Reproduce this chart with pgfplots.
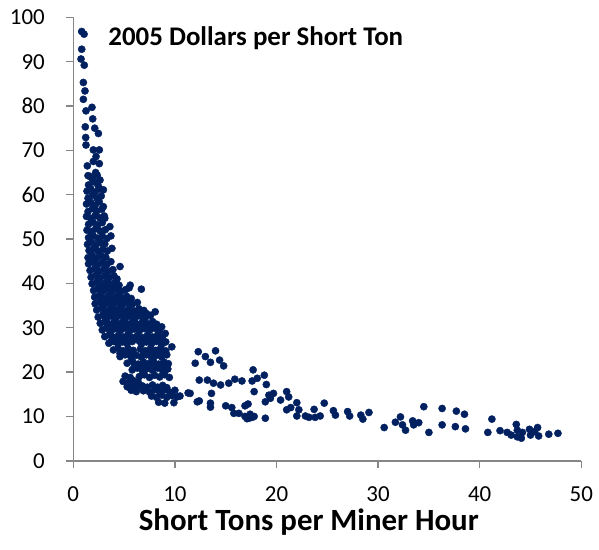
\documentclass[border=0pt]{standalone}
\usepackage{fontspec}
\setmainfont{Carlito}
\usepackage{pgfplots}
\usepackage{pgfplotstable}
\pgfplotsset{compat=1.18}
\definecolor{navy}{RGB}{0,32,96}
\definecolor{axgray}{RGB}{134,134,134}
\pgfplotstableread{
x y
0.83 96.8
1.06 96.2
0.83 92.8
0.76 90.6
1.08 89.2
0.99 85.3
1.15 83.4
0.99 81.5
1.84 79.7
1.25 78.9
1.91 77.1
1.18 75.3
2.11 75.0
2.47 73.8
1.22 72.9
1.25 71.2
1.97 70.1
2.56 70.1
2.24 68.6
1.38 66.5
1.97 67.5
2.56 67.0
2.20 65.0
1.65 64.1
2.63 63.3
2.96 61.1
2.96 57.3
3.10 54.7
3.60 52.8
3.70 50.7
3.80 47.9
4.60 43.8
5.60 39.6
6.70 38.7
5.50 39.0
8.06 33.6
8.70 30.2
9.05 28.7
9.70 25.7
8.50 27.0
1.45 64.3
1.85 63.6
2.35 64.4
1.5 62.2
2.05 62.9
2.45 62.0
1.35 60.8
1.7 61.4
2.15 60.6
2.6 61.3
1.45 59.2
1.9 59.9
2.35 59.1
2.75 59.7
1.3 57.9
1.7 58.3
2.15 57.6
2.55 58.4
1.45 56.2
1.9 56.9
2.3 56.3
2.8 56.7
1.3 55.1
1.7 54.7
2.15 55.3
2.6 54.8
3.05 55.2
1.5 53.3
1.95 53.8
2.4 53.2
2.85 53.7
1.35 52.0
1.75 51.7
2.2 52.3
2.65 51.8
3.15 52.1
1.5 50.3
1.95 50.8
2.4 50.2
2.85 50.7
3.3 50.1
1.4 48.8
1.8 49.3
2.25 48.7
2.7 49.2
3.1 48.9
1.55 47.4
2.0 47.8
2.45 47.2
2.9 47.7
3.35 47.3
1.45 45.8
1.85 46.3
2.3 45.7
2.75 46.2
3.2 45.9
1.5 44.4
1.95 44.8
2.4 44.2
2.85 44.7
3.3 44.3
3.7 44.9
1.65 42.9
2.1 43.3
2.55 42.7
3.0 43.2
3.45 42.8
3.9 43.1
1.75 41.4
2.2 41.8
2.65 41.2
3.1 41.7
3.55 41.3
4.0 41.7
4.3 41.0
1.85 39.9
2.3 40.3
2.75 39.7
3.2 40.2
3.65 39.8
4.1 40.2
4.5 39.6
2.5 39.2
3.0 39.1
3.5 39.3
4.0 39.0
2.0 38.4
2.45 38.8
2.9 38.2
3.35 38.7
3.8 38.3
4.25 38.8
4.7 38.2
5.15 38.6
2.1 36.9
2.55 37.3
3.0 36.7
3.45 37.2
3.9 36.8
4.35 37.3
4.8 36.7
5.25 37.1
5.7 36.6
2.8 36.2
3.3 36.1
3.8 36.3
4.3 36.0
4.8 36.2
2.15 35.4
2.6 35.8
3.05 35.2
3.5 35.7
3.95 35.3
4.4 35.8
4.85 35.2
5.3 35.7
5.8 35.3
6.3 35.7
2.3 34.0
2.75 34.4
3.2 33.8
3.65 34.3
4.1 33.9
4.55 34.4
5.0 33.8
5.45 34.2
5.95 33.8
6.45 34.3
6.95 33.9
3.0 33.2
3.5 33.0
4.0 33.3
4.5 33.1
5.0 33.2
5.5 33.0
6.0 33.3
6.5 33.1
7.2 33.2
2.45 32.4
2.9 32.8
3.35 32.2
3.8 32.7
4.25 32.3
4.7 32.8
5.15 32.2
5.6 32.6
6.1 32.2
6.6 32.7
7.1 32.3
7.6 32.8
2.65 31.0
3.1 31.4
3.55 30.8
4.0 31.3
4.45 30.9
4.9 31.4
5.35 30.8
5.8 31.2
6.3 30.8
6.8 31.3
7.3 30.9
7.8 31.4
8.2 30.8
3.3 30.2
3.8 30.0
4.3 30.3
4.8 30.1
5.3 30.2
5.8 30.0
6.3 30.3
6.8 30.1
7.3 30.2
7.8 30.0
2.85 29.5
3.3 29.9
3.75 29.3
4.2 29.8
4.65 29.4
5.1 29.9
5.55 29.3
6.0 29.7
6.5 29.3
7.0 29.8
7.5 29.4
8.0 29.9
8.45 29.3
3.1 28.0
3.55 28.4
4.0 27.8
4.45 28.3
4.9 27.9
5.35 28.4
5.8 27.8
6.3 28.2
6.8 27.8
7.3 28.3
7.8 27.9
8.3 28.4
8.75 27.8
3.8 27.2
4.3 27.1
4.8 27.3
5.3 27.1
5.9 27.2
6.5 27.0
7.0 27.2
7.5 27.1
8.0 27.3
3.5 26.5
3.95 26.9
4.4 26.3
4.85 26.8
5.3 26.4
5.8 26.9
6.7 26.3
7.2 26.8
7.7 26.4
8.2 26.9
8.7 26.3
9.1 26.8
3.95 25.0
4.4 25.4
4.9 24.8
5.4 25.3
5.9 24.9
6.6 25.2
7.1 24.8
7.6 25.3
8.1 24.9
8.6 25.4
9.1 24.8
4.6 24.2
5.2 24.1
5.7 24.3
6.9 24.1
7.4 24.2
7.9 24.0
8.4 24.2
8.9 24.1
4.6 23.5
5.1 23.9
5.7 23.3
6.2 23.8
6.7 23.4
7.2 23.9
7.7 23.3
8.2 23.8
8.7 23.4
9.2 23.9
5.3 22.0
5.85 22.4
6.4 21.8
6.9 22.3
7.4 21.9
7.9 22.4
8.4 21.8
8.9 22.3
9.35 21.9
6.0 21.2
6.6 21.1
7.1 21.3
7.6 21.1
8.1 21.2
8.6 21.0
9.1 21.2
5.8 20.5
6.3 20.9
6.8 20.3
7.3 20.8
7.8 20.4
8.3 20.9
8.8 20.3
9.3 20.7
5.1 19.1
5.6 18.8
6.5 19.0
7.0 19.4
7.5 18.8
8.0 19.3
8.5 18.9
9.0 19.4
9.45 18.8
4.9 17.9
5.4 17.6
5.9 18.1
6.4 17.7
5.3 16.7
5.8 17.0
6.3 16.5
6.8 16.9
7.3 16.6
7.8 17.1
8.3 16.6
8.8 17.0
9.2 16.5
5.7 15.9
6.2 15.6
6.9 15.8
7.5 15.5
8.0 16.0
8.5 15.6
9.0 16.0
9.5 15.5
10.0 15.9
7.7 14.6
8.2 14.3
8.7 14.8
9.2 14.3
9.7 14.7
10.2 14.4
8.4 13.2
9.0 13.0
9.9 13.1
12.3 24.6
12.0 22.0
11.3 15.3
12.2 13.3
13.0 23.5
13.5 22.2
14.0 24.8
14.4 22.7
14.8 21.4
12.4 18.2
13.2 18.2
13.8 17.5
14.5 17.1
15.3 17.5
15.9 18.4
16.6 18.0
17.7 20.5
17.6 18.0
18.1 18.6
18.8 19.3
19.0 17.2
17.8 15.6
10.5 14.6
11.5 15.2
13.6 15.2
12.4 13.5
13.5 13.0
13.5 12.1
15.0 12.4
15.6 12.0
15.8 10.7
16.3 10.7
16.9 12.4
17.2 12.8
16.9 10.0
17.3 9.6
17.6 9.8
17.1 9.5
17.8 10.0
17.4 10.5
18.9 9.6
18.9 13.3
19.25 14.8
19.7 15.2
19.4 14.1
20.4 13.7
21.0 15.6
21.2 14.4
21.0 11.5
21.4 12.0
22.0 13.1
22.2 11.5
22.0 10.1
22.85 10.1
23.2 9.8
23.7 11.6
23.8 9.8
24.3 10.1
24.7 13.0
25.6 11.3
25.8 10.3
27.0 11.1
27.2 10.1
28.3 10.3
28.5 9.4
29.1 10.9
30.6 7.5
31.7 8.7
32.2 9.9
32.4 8.1
32.7 6.9
33.4 9.0
33.5 8.1
34.0 8.6
34.5 12.2
35.0 6.4
36.3 11.8
36.3 8.1
37.7 11.2
38.5 10.5
37.6 7.7
38.6 7.2
40.8 6.4
41.2 9.4
42.0 6.8
42.7 6.4
43.1 5.8
43.6 8.2
43.7 6.9
43.7 5.4
44.1 5.1
44.2 6.4
44.9 7.1
45.0 5.8
45.4 6.6
45.7 7.5
45.8 5.6
46.8 6.0
47.7 6.2
}\coaldata
\begin{document}
\begin{tikzpicture}
\path[use as bounding box] (-73.3bp,-89.2bp) rectangle (525.7bp,460.8bp);
\begin{axis}[
  at={(0,0)}, anchor=south west,
  scale only axis,
  width=508bp, height=443.5bp,
  xmin=0, xmax=50, ymin=0, ymax=100,
  xtick={0,10,...,50}, ytick={0,10,...,100},
  axis x line=bottom, axis y line=left,
  axis line style={-, axgray, line width=1.5bp},
  every tick/.style={axgray, line width=1.5bp},
  tick align=outside,
  major tick length=7.5bp,
  /pgf/number format/assume math mode=true,
  ticklabel style={font=\fontsize{23}{27}\selectfont, text=black},
  yticklabel style={inner sep=0pt, xshift=-20.8bp},
  xticklabel style={inner sep=0pt, yshift=-18.4bp},
  clip=false,
]
\addplot[only marks, mark=*, mark size=3.6bp, mark options={draw=navy, fill=navy}] table[x=x,y=y] {\coaldata};
\node[anchor=base west, inner sep=0pt, font=\fontsize{27}{32}\selectfont\bfseries] at (axis cs:3.44,93.6) {2005 Dollars per Short Ton};
\node[anchor=base, inner sep=0pt, font=\fontsize{31}{36}\selectfont\bfseries] at (axis cs:23.18,-15.8) {Short Tons per Miner Hour};
\end{axis}
\end{tikzpicture}
\end{document}
